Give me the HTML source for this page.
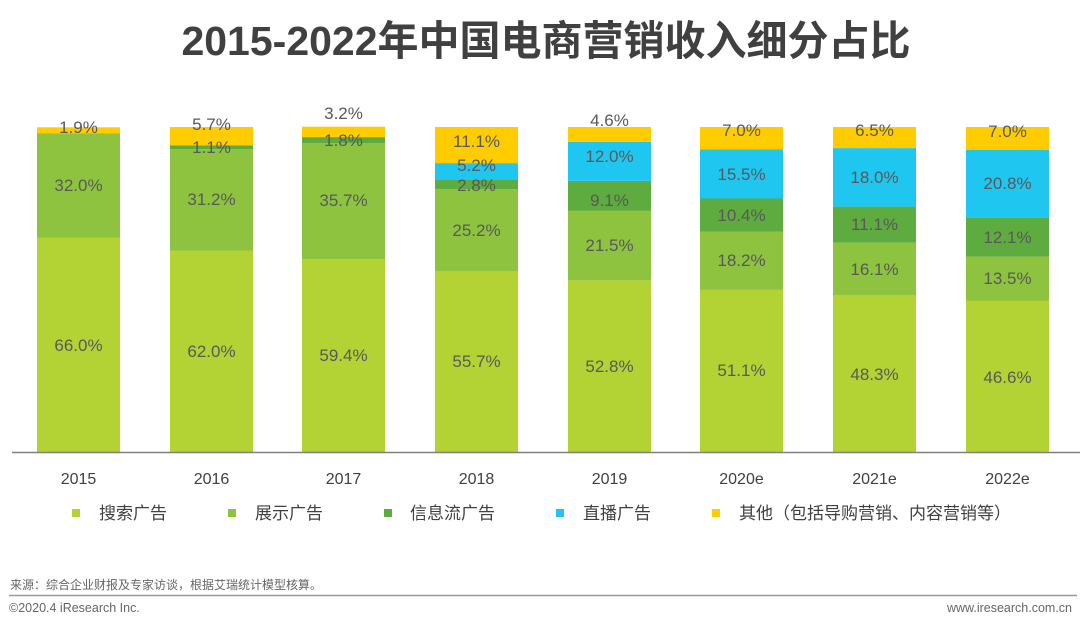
<!DOCTYPE html>
<html><head><meta charset="utf-8"><style>
html,body{margin:0;padding:0;background:#fff;}
svg{display:block;}
text{font-family:"Liberation Sans","Noto Sans CJK SC",sans-serif;}
</style></head><body>
<svg width="1080" height="627" viewBox="0 0 1080 627" xmlns="http://www.w3.org/2000/svg">
<text x="546" y="55" text-anchor="middle" font-size="41" font-weight="bold" fill="#404040">2015-2022年中国电商营销收入细分占比</text>
<g>
<rect x="37" y="237.5" width="83" height="214.5" fill="#b3d234"/>
<rect x="37" y="133.5" width="83" height="104" fill="#8dc33f"/>
<rect x="37" y="127.3" width="83" height="6.2" fill="#ffcc00"/>
<rect x="170" y="250.5" width="83" height="201.5" fill="#b3d234"/>
<rect x="170" y="149.1" width="83" height="101.4" fill="#8dc33f"/>
<rect x="170" y="145.5" width="83" height="3.6" fill="#5eab3f"/>
<rect x="170" y="127" width="83" height="18.5" fill="#ffcc00"/>
<rect x="302" y="259" width="83" height="193" fill="#b3d234"/>
<rect x="302" y="143" width="83" height="116" fill="#8dc33f"/>
<rect x="302" y="137.1" width="83" height="5.9" fill="#5eab3f"/>
<rect x="302" y="126.7" width="83" height="10.4" fill="#ffcc00"/>
<rect x="435" y="271" width="83" height="181" fill="#b3d234"/>
<rect x="435" y="189.1" width="83" height="81.9" fill="#8dc33f"/>
<rect x="435" y="180" width="83" height="9.1" fill="#5eab3f"/>
<rect x="435" y="163.1" width="83" height="16.9" fill="#1fc6f0"/>
<rect x="435" y="127" width="83" height="36.1" fill="#ffcc00"/>
<rect x="568" y="280.4" width="83" height="171.6" fill="#b3d234"/>
<rect x="568" y="210.5" width="83" height="69.9" fill="#8dc33f"/>
<rect x="568" y="180.9" width="83" height="29.6" fill="#5eab3f"/>
<rect x="568" y="141.9" width="83" height="39" fill="#1fc6f0"/>
<rect x="568" y="127" width="83" height="14.9" fill="#ffcc00"/>
<rect x="700" y="289.5" width="83" height="162.5" fill="#b3d234"/>
<rect x="700" y="231.6" width="83" height="57.9" fill="#8dc33f"/>
<rect x="700" y="198.5" width="83" height="33.1" fill="#5eab3f"/>
<rect x="700" y="149.2" width="83" height="49.3" fill="#1fc6f0"/>
<rect x="700" y="127" width="83" height="22.2" fill="#ffcc00"/>
<rect x="833" y="295" width="83" height="157" fill="#b3d234"/>
<rect x="833" y="242.7" width="83" height="52.3" fill="#8dc33f"/>
<rect x="833" y="206.6" width="83" height="36.1" fill="#5eab3f"/>
<rect x="833" y="148.1" width="83" height="58.5" fill="#1fc6f0"/>
<rect x="833" y="127" width="83" height="21.1" fill="#ffcc00"/>
<rect x="966" y="300.5" width="83" height="151.5" fill="#b3d234"/>
<rect x="966" y="256.6" width="83" height="43.9" fill="#8dc33f"/>
<rect x="966" y="217.3" width="83" height="39.3" fill="#5eab3f"/>
<rect x="966" y="149.7" width="83" height="67.6" fill="#1fc6f0"/>
<rect x="966" y="127" width="83" height="22.7" fill="#ffcc00"/>
</g>
<line x1="12" y1="452.5" x2="1080" y2="452.5" stroke="#808080" stroke-width="1.5"/>
<g font-size="17" fill="#595959" text-anchor="middle">
<text x="78.5" y="351">66.0%</text><text x="78.5" y="191">32.0%</text><text x="78.5" y="133">1.9%</text>
<text x="211.5" y="357">62.0%</text><text x="211.5" y="205">31.2%</text><text x="211.5" y="153">1.1%</text><text x="211.5" y="130">5.7%</text>
<text x="343.5" y="361">59.4%</text><text x="343.5" y="206">35.7%</text><text x="343.5" y="146">1.8%</text><text x="343.5" y="119">3.2%</text>
<text x="476.5" y="367">55.7%</text><text x="476.5" y="236">25.2%</text><text x="476.5" y="191">2.8%</text><text x="476.5" y="171">5.2%</text><text x="476.5" y="147">11.1%</text>
<text x="609.5" y="372">52.8%</text><text x="609.5" y="251">21.5%</text><text x="609.5" y="206">9.1%</text><text x="609.5" y="162">12.0%</text><text x="609.5" y="126">4.6%</text>
<text x="741.5" y="376">51.1%</text><text x="741.5" y="266">18.2%</text><text x="741.5" y="221">10.4%</text><text x="741.5" y="180">15.5%</text><text x="741.5" y="136">7.0%</text>
<text x="874.5" y="380">48.3%</text><text x="874.5" y="275">16.1%</text><text x="874.5" y="230">11.1%</text><text x="874.5" y="183">18.0%</text><text x="874.5" y="136">6.5%</text>
<text x="1007.5" y="383">46.6%</text><text x="1007.5" y="284">13.5%</text><text x="1007.5" y="243">12.1%</text><text x="1007.5" y="189">20.8%</text><text x="1007.5" y="137">7.0%</text>
</g>
<g font-size="16" fill="#404040" text-anchor="middle">
<text x="78.5" y="484">2015</text><text x="211.5" y="484">2016</text><text x="343.5" y="484">2017</text><text x="476.5" y="484">2018</text>
<text x="609.5" y="484">2019</text><text x="741.5" y="484">2020e</text><text x="874.5" y="484">2021e</text><text x="1007.5" y="484">2022e</text>
</g>
<g font-size="17" fill="#404040">
<rect x="72" y="509" width="8" height="8" fill="#b3d234"/><text x="99" y="519">搜索广告</text>
<rect x="228" y="509" width="8" height="8" fill="#8dc33f"/><text x="255" y="519">展示广告</text>
<rect x="384" y="509" width="8" height="8" fill="#5eab3f"/><text x="410" y="519">信息流广告</text>
<rect x="556" y="509" width="8" height="8" fill="#1fc6f0"/><text x="583" y="519">直播广告</text>
<rect x="712" y="509" width="8" height="8" fill="#ffcc00"/><text x="739" y="519">其他（包括导购营销、内容营销等）</text>
</g>
<text x="10" y="589" font-size="12" fill="#666">来源：综合企业财报及专家访谈，根据艾瑞统计模型核算。</text>
<line x1="9" y1="595.5" x2="1077" y2="595.5" stroke="#999" stroke-width="1.5"/>
<text x="9" y="612" font-size="12.5" fill="#666">©2020.4 iResearch Inc.</text>
<text x="1072" y="612" font-size="12.5" fill="#666" text-anchor="end">www.iresearch.com.cn</text>
</svg>
</body></html>
